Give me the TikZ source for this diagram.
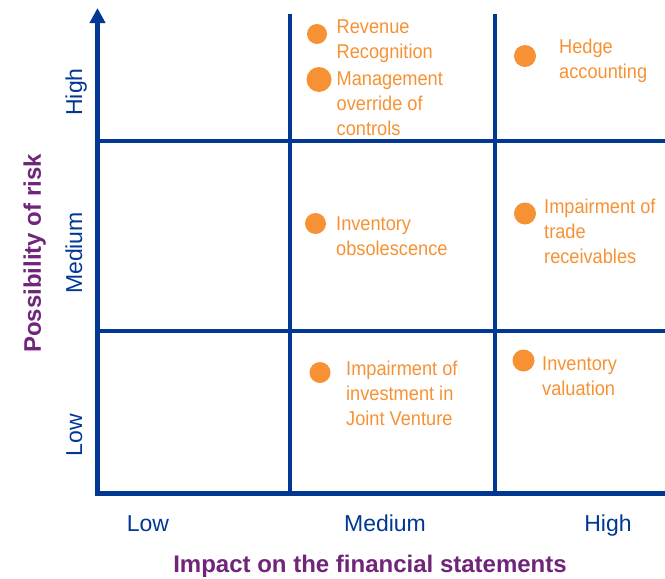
\documentclass[tikz,border=0pt]{standalone}
\usepackage{fontspec}
\setmainfont{Liberation Sans}
\newfontfamily\labelfont[FakeStretch=0.91]{Liberation Sans}
\usetikzlibrary{arrows.meta}

\definecolor{gridblue}{RGB}{0,56,147}
\definecolor{riskorange}{RGB}{246,146,51}
\definecolor{titlepurple}{RGB}{112,36,122}

% multi-line label whose baseline is the first line
\newcommand\risklines[1]{\begin{tabular}[t]{@{}l@{}}#1\end{tabular}}

\begin{document}
\begin{tikzpicture}[x=1pt,y=-1pt,
  axisline/.style={gridblue, line width=5pt},
  gridline/.style={gridblue, line width=4pt},
  riskdot/.style={circle, fill=riskorange, draw=none, inner sep=0pt},
  risklabel/.style={anchor=base west, inner sep=0pt, text=riskorange,
    font=\labelfont\fontsize{20}{25}\selectfont},
  ticklabel/.style={anchor=base, inner sep=0pt, text=gridblue,
    font=\fontsize{23}{27}\selectfont},
  axistitle/.style={anchor=base, inner sep=0pt, text=titlepurple,
    font=\bfseries\fontsize{24}{28}\selectfont}]

\useasboundingbox (0,0) rectangle (665,579);

% grid corners
\coordinate (o)  at (97.5,493);
\coordinate (top) at (97.5,8);
\coordinate (xr) at (665,493);
\coordinate (h1l) at (97.5,140.5);
\coordinate (h1r) at (665,140.5);
\coordinate (h2l) at (97.5,330.5);
\coordinate (h2r) at (665,330.5);
\coordinate (v1t) at (289.5,14);
\coordinate (v1b) at (289.5,493);
\coordinate (v2t) at (494.5,14);
\coordinate (v2b) at (494.5,493);

% inner grid
\draw[gridline] (h1l) -- (h1r);
\draw[gridline] (h2l) -- (h2r);
\draw[gridline] (v1t) -- (v1b);
\draw[gridline] (v2t) -- (v2b);

% axes
\draw[axisline] ([xshift=-2.5pt]o) -- (xr);
\draw[axisline, -{Triangle[length=15pt,width=15pt]}] ([yshift=2.5pt]o) -- (top);

% risks
\node[riskdot, minimum size=20pt] (d1) at (317,34) {};
\node[risklabel] (t1) at (336.5,33) {\risklines{Revenue\\Recognition}};

\node[riskdot, minimum size=25pt] (d2) at (319,79.5) {};
\node[risklabel] (t2) at (336.5,85) {\risklines{Management\\override of\\controls}};

\node[riskdot, minimum size=22pt] (d3) at (525,56) {};
\node[risklabel] (t3) at (559,53) {\risklines{Hedge\\accounting}};

\node[riskdot, minimum size=21pt] (d4) at (315.5,223.5) {};
\node[risklabel] (t4) at (336,230) {\risklines{Inventory\\obsolescence}};

\node[riskdot, minimum size=22pt] (d5) at (525,213.5) {};
\node[risklabel] (t5) at (544,213) {\risklines{Impairment of\\trade\\receivables}};

\node[riskdot, minimum size=21pt] (d6) at (320,372.5) {};
\node[risklabel] (t6) at (346,375) {\risklines{Impairment of\\investment in\\Joint Venture}};

\node[riskdot, minimum size=22pt] (d7) at (523.5,360.5) {};
\node[risklabel] (t7) at (542,370) {\risklines{Inventory\\valuation}};

% impact scale
\node[ticklabel] (xlow) at (148,531) {Low};
\node[ticklabel] (xmed) at (385,531) {Medium};
\node[ticklabel] (xhigh) at (608,531) {High};

% possibility scale
\node[ticklabel, rotate=90] (yhigh) at (82,92) {High};
\node[ticklabel, rotate=90] (ymed) at (82,253) {Medium};
\node[ticklabel, rotate=90] (ylow) at (82,435) {Low};

% axis titles
\node[axistitle] (xtitle) at (370,572) {Impact on the financial statements};
\node[axistitle, rotate=90] (ytitle) at (41,253.5) {Possibility of risk};

\end{tikzpicture}
\end{document}
